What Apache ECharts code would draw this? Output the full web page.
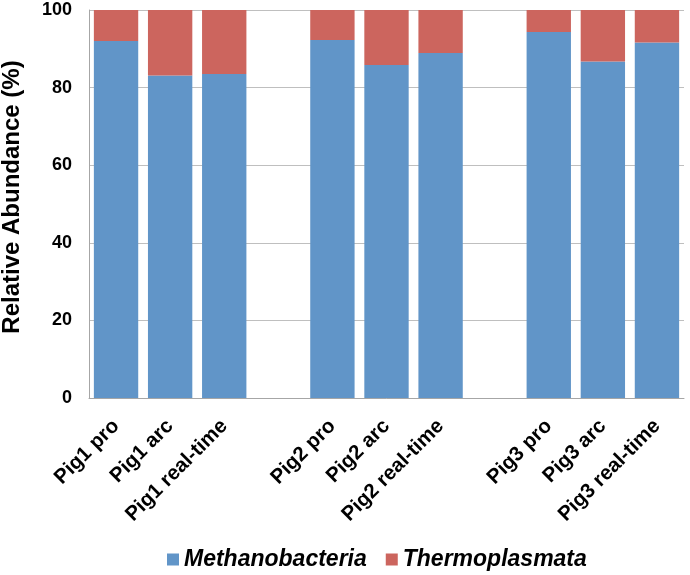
<!DOCTYPE html>
<html><head><meta charset="utf-8">
<script src="https://cdn.jsdelivr.net/npm/echarts@6/dist/echarts.min.js"></script>
<style>html,body{margin:0;padding:0;background:#fff}#c{width:690px;height:575px}</style>
</head><body><div id="c"></div>
<script>
var categories = ['Pig1 pro','Pig1 arc','Pig1 real-time','','Pig2 pro','Pig2 arc','Pig2 real-time','','Pig3 pro','Pig3 arc','Pig3 real-time'];
var methanobacteria = [92.0, 83.1, 83.5, null, 92.3, 85.8, 88.9, null, 94.3, 86.7, 91.6];
var thermoplasmata = [8.0, 16.9, 16.5, null, 7.7, 14.2, 11.1, null, 5.7, 13.3, 8.4];
var yTicks = [0, 20, 40, 60, 80, 100];

var chart = echarts.init(document.getElementById('c'), null, {renderer: 'canvas'});
var font = 'Liberation Sans, Arial, sans-serif';
chart.setOption({
  animation: false,
  grid: {left: 89, right: 6, top: 10, bottom: 177, containLabel: false, outerBoundsMode: 'none'},
  legend: {
    top: 543, left: 162, itemWidth: 12, itemHeight: 12, itemGap: 19,
    icon: 'rect',
    textStyle: {fontFamily: font, fontSize: 23, fontWeight: 'bold', fontStyle: 'italic', color: '#000'},
    data: ['Methanobacteria', 'Thermoplasmata']
  },
  xAxis: {
    type: 'category', data: categories,
    axisLine: {lineStyle: {color: '#A6A6A6'}},
    axisTick: {inside: true, length: 6, lineStyle: {color: '#A6A6A6'}},
    axisLabel: {interval: 0, rotate: 45, margin: 25, fontFamily: font, fontSize: 20.5, fontWeight: 'bold', color: '#000'}
  },
  yAxis: {
    type: 'value', min: yTicks[0], max: yTicks[yTicks.length-1], interval: 20,
    name: 'Relative Abundance (%)', nameLocation: 'middle', nameGap: 65,
    nameTextStyle: {fontFamily: font, fontSize: 24, fontWeight: 'bold', color: '#000', padding: [0, 0, 0, 14]},
    axisLine: {show: true, lineStyle: {color: '#A6A6A6'}},
    axisTick: {show: false},
    splitLine: {lineStyle: {color: '#BFBFBF'}},
    axisLabel: {margin: 17, fontFamily: font, fontSize: 18, fontWeight: 'bold', color: '#000'}
  },
  series: [
    {name: 'Methanobacteria', type: 'bar', stack: 'a', data: methanobacteria, barCategoryGap: '18%', itemStyle: {color: '#6195C8'}},
    {name: 'Thermoplasmata', type: 'bar', stack: 'a', data: thermoplasmata, barCategoryGap: '18%', itemStyle: {color: '#CC655E'}}
  ]
});
</script></body></html>
